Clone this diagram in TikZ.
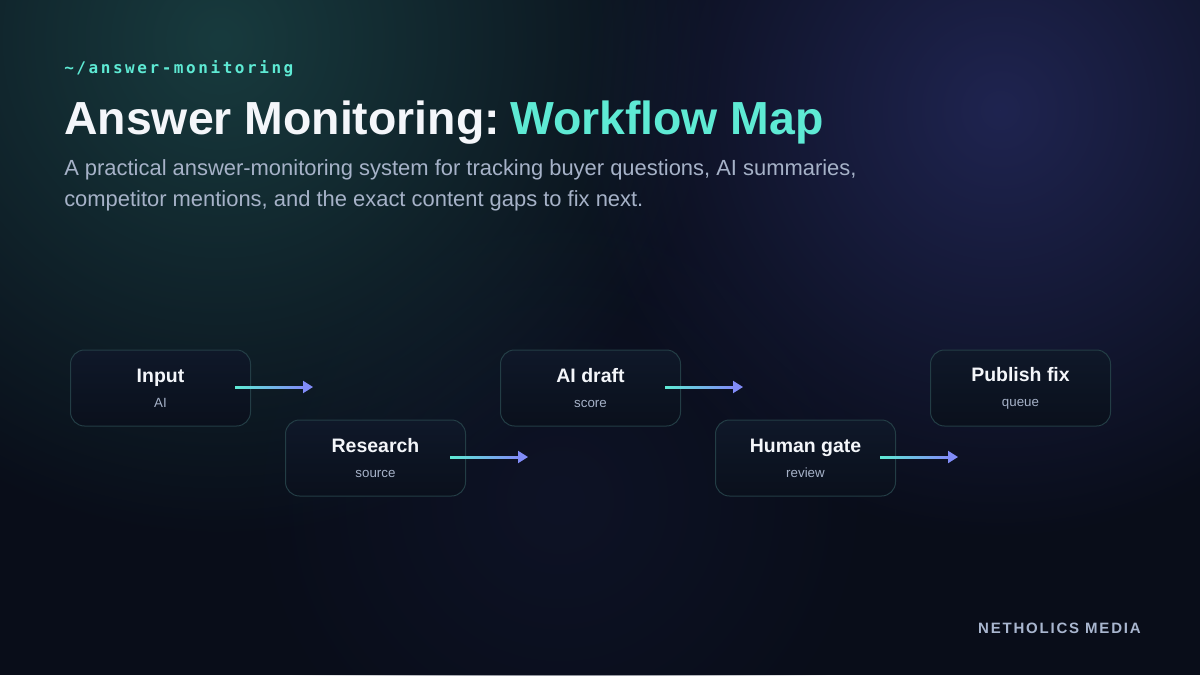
\documentclass[tikz,border=0pt]{standalone}
\usepackage{fontspec}
\setmainfont{Liberation Sans}
\newfontfamily\pathfont[LetterSpace=16]{DejaVu Sans Mono}
\newfontfamily\brandfont[LetterSpace=12]{Liberation Sans}
\usetikzlibrary{arrows.meta,fadings,calc}
\definecolor{bgnavy}{HTML}{090D19}
\definecolor{glowteal}{HTML}{183B3E}
\definecolor{glowblue}{HTML}{1F2450}
\definecolor{glowmid}{HTML}{0E1326}
\definecolor{accent}{HTML}{5EEAD4}
\definecolor{headwhite}{HTML}{F4F6FA}
\definecolor{subgray}{HTML}{A6B2C8}
\definecolor{cardtop}{HTML}{0F1829}
\definecolor{cardbot}{HTML}{0A101C}
\definecolor{cardedge}{HTML}{233D45}
\definecolor{cardsub}{HTML}{A6B2C8}
\definecolor{flowcyan}{HTML}{5EEAD4}
\definecolor{flowviolet}{HTML}{818CF8}
\definecolor{brandgray}{HTML}{A9B6CF}
\tikzfading[name=glowfade, inner color=transparent!0, outer color=transparent!100]
\newcommand{\steplabel}[2]{{\fontsize{14.6}{14.6}\selectfont\bfseries\color{headwhite}#1}\\[4.2pt]{\color{cardsub}#2}}

\begin{document}
\begin{tikzpicture}[x=0.75pt,y=-0.75pt,
  stepcard/.style={rounded corners=10.5pt, top color=cardtop, bottom color=cardbot, draw=cardedge, line width=0.75pt,
    minimum width=135pt, minimum height=57pt, align=center, font=\fontsize{10}{14.6}\selectfont},
  flow/.style={draw=flowviolet, line width=1.5pt, -{Triangle[length=7.5pt,width=9pt]}},
  flowshade/.style={left color=flowcyan, right color=flowviolet}]
\useasboundingbox (0,0) rectangle (1200,675);
\clip (0,0) rectangle (1200,675);
\fill[bgnavy] (0,0) rectangle (1200,675);
\fill[glowmid, path fading=glowfade] (560,500) circle (320);
\fill[glowteal, path fading=glowfade] (220,40) circle (500);
\fill[glowblue, path fading=glowfade] (1000,110) circle (430);
\node[anchor=base west, inner sep=0pt, text=accent, font=\pathfont\bfseries\fontsize{12}{12}\selectfont] (path) at (64,73) {\textasciitilde/answer-monitoring};
\node[anchor=base west, inner sep=0pt, text=headwhite, font=\bfseries\fontsize{34.8}{34.8}\selectfont] (title) at (64,134) {Answer Monitoring:\hspace{0.22em}\textcolor{accent}{Workflow Map}};
\node[anchor=base west, inner sep=0pt, text=subgray, font=\fontsize{16.45}{16.45}\selectfont] (sub1) at (64,175) {A practical answer-monitoring system for tracking buyer questions, AI summaries,};
\node[anchor=base west, inner sep=0pt, text=subgray, font=\fontsize{16.45}{16.45}\selectfont] (sub2) at (64,206) {competitor mentions, and the exact content gaps to fix next.};
\node[stepcard] (input) at (160.5,388) {\steplabel{Input}{AI}};
\node[stepcard] (research) at (375.5,458) {\steplabel{Research}{source}};
\node[stepcard] (draft) at (590.5,388) {\steplabel{AI draft}{score}};
\node[stepcard] (gate) at (805.5,458) {\steplabel{Human gate}{review}};
\node[stepcard] (publish) at (1020.5,388) {\steplabel{Publish fix}{queue}};
\coordinate (s1) at (235,387); \coordinate (e1) at (313,387);
\coordinate (s2) at (450,457); \coordinate (e2) at (528,457);
\coordinate (s3) at (665,387); \coordinate (e3) at (743,387);
\coordinate (s4) at (880,457); \coordinate (e4) at (958,457);
\draw[flow] (s1) -- (e1);
\draw[flow] (s2) -- (e2);
\draw[flow] (s3) -- (e3);
\draw[flow] (s4) -- (e4);
\shade[flowshade] ($(s1)+(0,-1)$) rectangle ($(e1)+(-10,1)$);
\shade[flowshade] ($(s2)+(0,-1)$) rectangle ($(e2)+(-10,1)$);
\shade[flowshade] ($(s3)+(0,-1)$) rectangle ($(e3)+(-10,1)$);
\shade[flowshade] ($(s4)+(0,-1)$) rectangle ($(e4)+(-10,1)$);
\node[anchor=base east, inner sep=0pt, text=brandgray, font=\brandfont\bfseries\fontsize{11.25}{11.25}\selectfont] (brand) at (1141,633) {NETHOLICS MEDIA};
\end{tikzpicture}
\end{document}
